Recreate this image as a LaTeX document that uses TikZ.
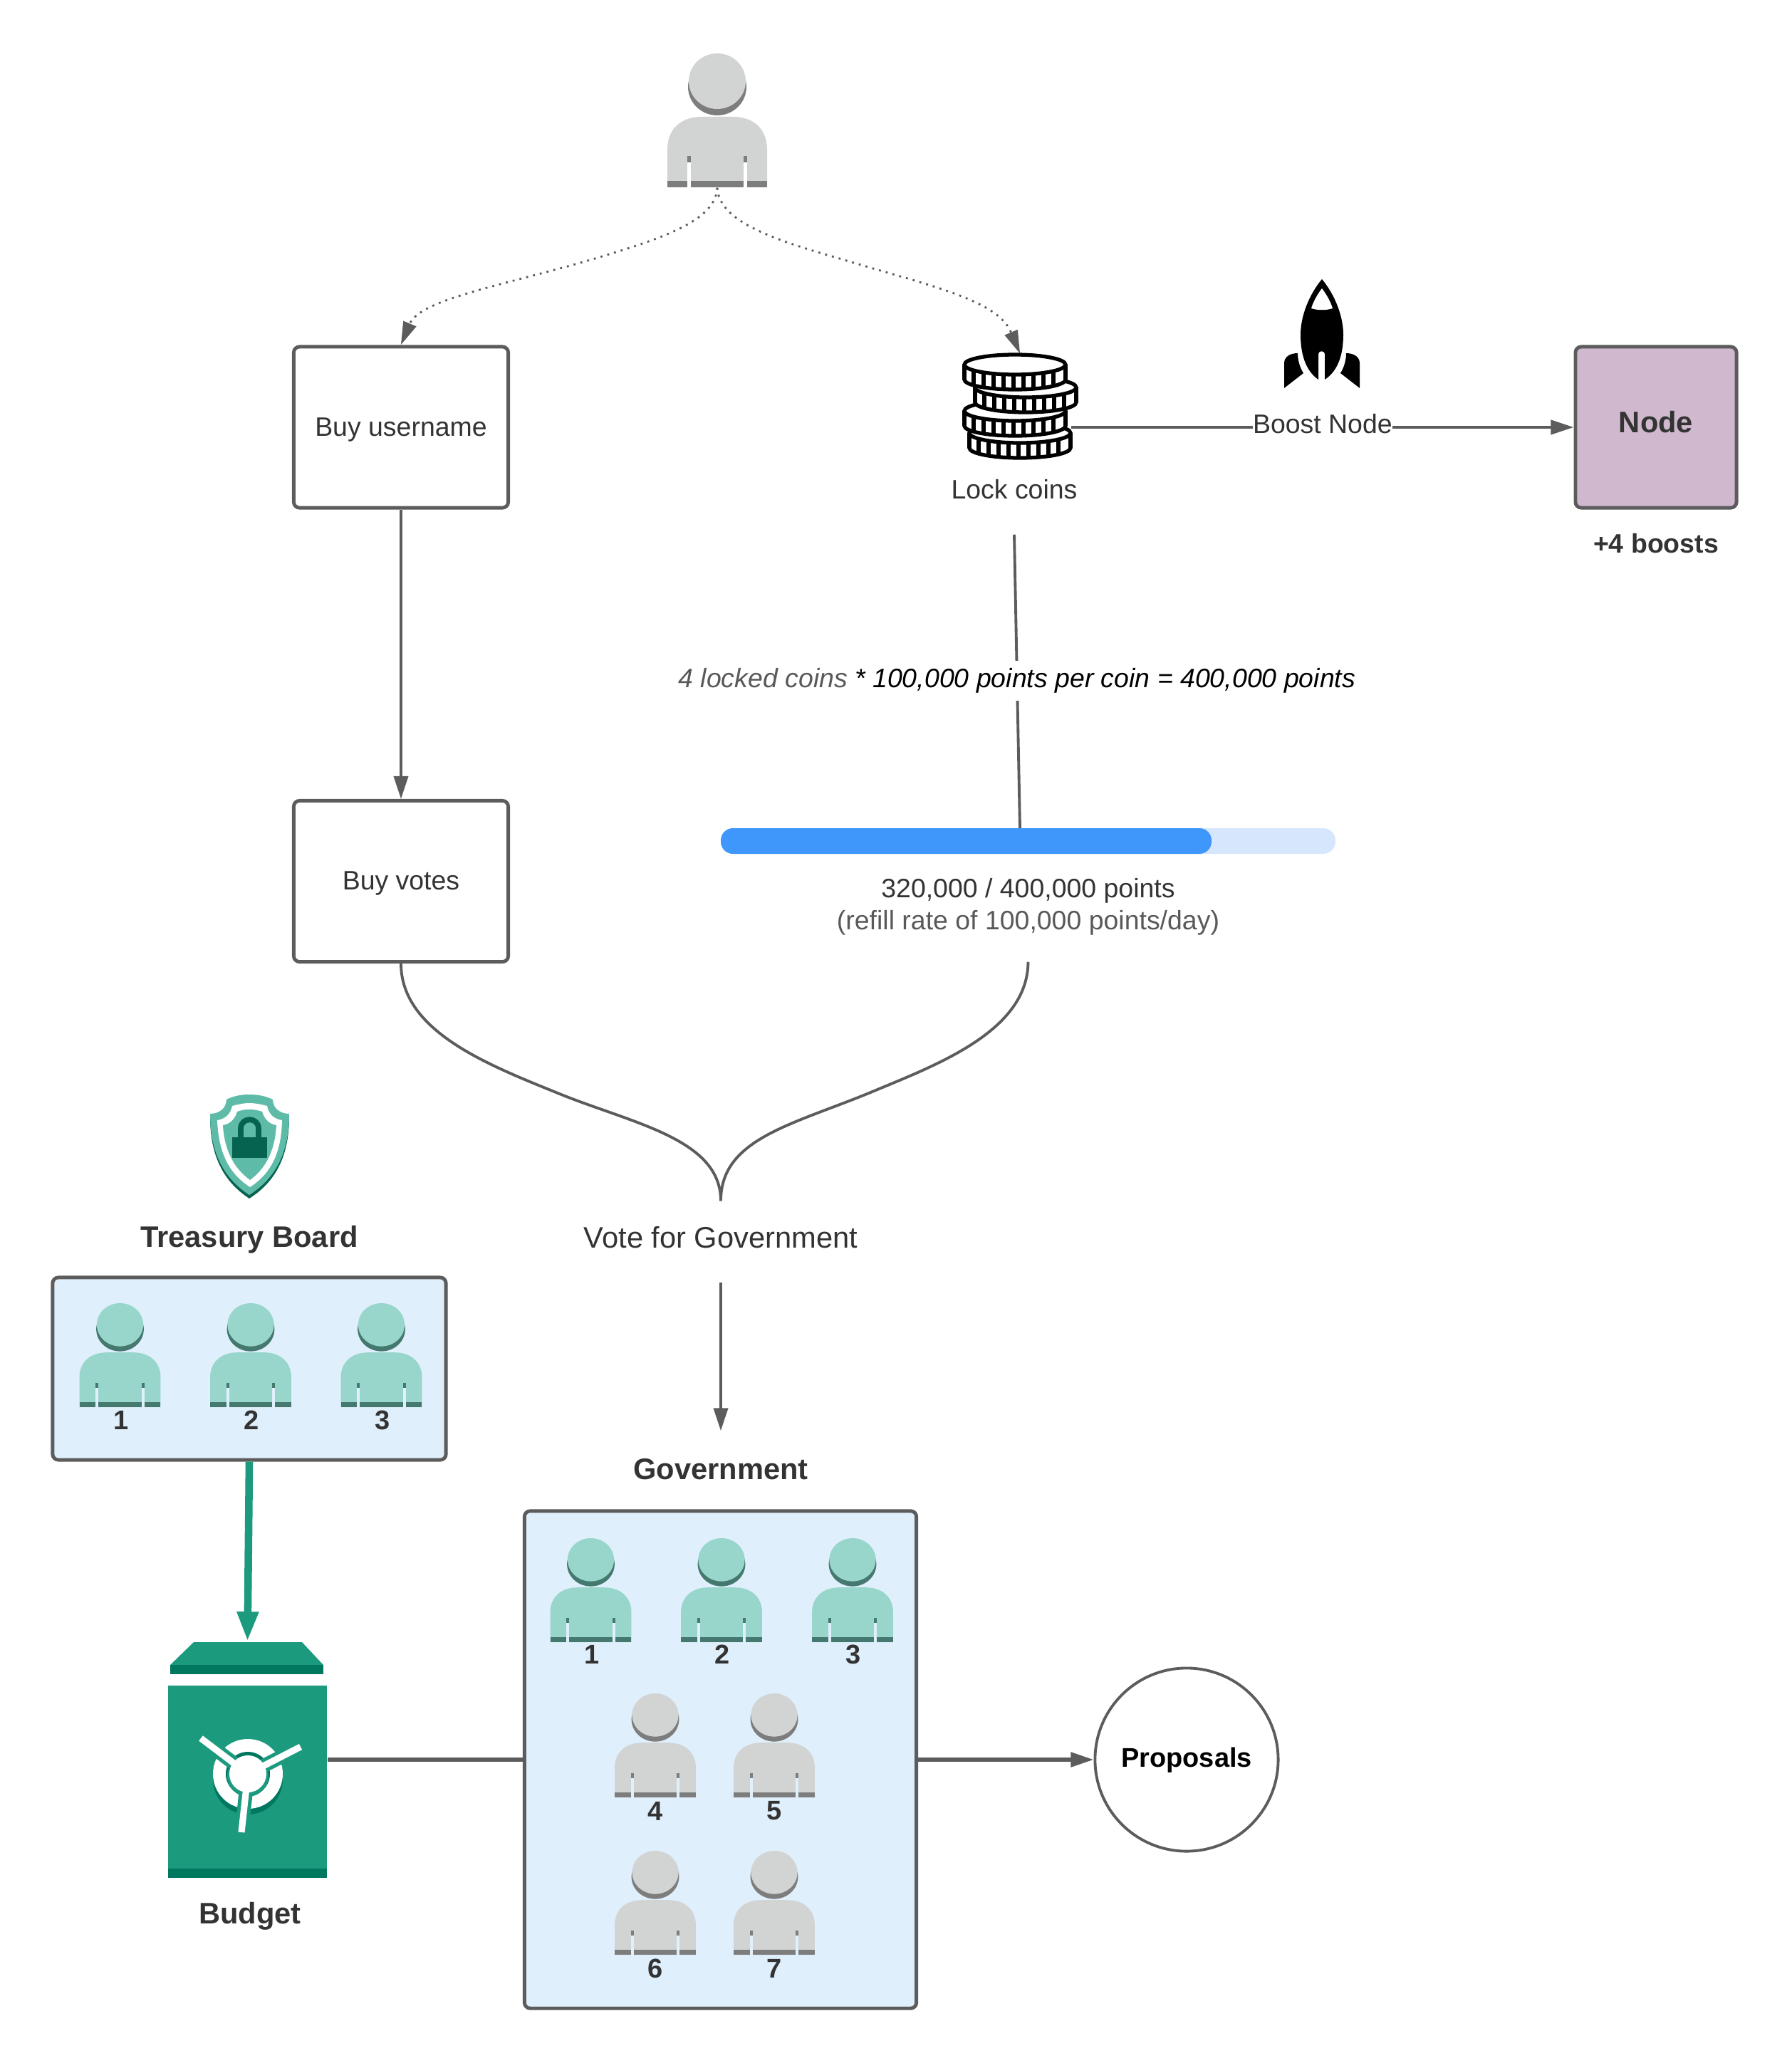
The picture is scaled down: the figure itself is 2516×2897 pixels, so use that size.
\documentclass[tikz,border=0pt]{standalone}
\usepackage{fontspec}
\setmainfont{Liberation Sans}
\usepackage{xcolor}
\usetikzlibrary{arrows.meta, positioning, calc}
\definecolor{Line_Gray}{HTML}{5C5C5C}
\definecolor{Text_Gray}{HTML}{333333}
\definecolor{Sub_Gray}{HTML}{595959}
\definecolor{Box_Blue}{HTML}{DFEFFB}
\definecolor{Bar_Blue}{HTML}{3F96FB}
\definecolor{Bar_Pale}{HTML}{D6E7FD}
\definecolor{Node_Mauve}{HTML}{D0B9CE}
\definecolor{User_Gray}{HTML}{D2D4D4}
\definecolor{User_Dark}{HTML}{7D7D7D}
\definecolor{User_Teal}{HTML}{98D5CA}
\definecolor{User_Deep}{HTML}{45796F}
\definecolor{Safe_Teal}{HTML}{1C9A7E}
\definecolor{Safe_Deep}{HTML}{00775F}
\definecolor{Shield_Teal}{HTML}{5EBBA8}
\definecolor{Shield_Deep}{HTML}{066350}
\tikzset{
  lbl/.style={font=\fontsize{10.65}{12.5}\selectfont, text=Text_Gray, inner sep=0pt},
  bigbold/.style={font=\fontsize{11.85}{14}\selectfont\bfseries, text=Text_Gray, inner sep=0pt},
  numlbl/.style={font=\fontsize{10.8}{12}\selectfont\bfseries, text=Text_Gray, inner sep=0pt},
  stepbox/.style={draw=Line_Gray, line width=1.4pt, rounded corners=2.3pt, minimum width=3.01cm, minimum height=2.26cm, inner sep=0pt},
  panel/.style={draw=Line_Gray, line width=1.4pt, fill=Box_Blue, rounded corners=2.3pt, inner sep=0pt},
  iconbox/.style={inner sep=0pt},
  conn/.style={draw=Line_Gray, line width=1.1pt},
  connarrow/.style={conn, -{Triangle[length=0.32cm, width=0.2cm]}},
  dottedarrow/.style={draw=Line_Gray, line width=0.8pt, dotted, -{Triangle[length=0.32cm, width=0.2cm, line width=0pt, fill=Line_Gray]}},
}
% user figure: x, top, xscale, yscale, light, dark, background
\newcommand{\userfig}[7]{
\begin{scope}[shift={(#1,#2)}, xscale=#3, yscale=#4]
\fill[#6] (0,47) ellipse [x radius=41, y radius=40];
\fill[#5] (0,39) ellipse [x radius=40, y radius=39];
\fill[#5] (-70,188) -- (-70,135) .. controls (-70,105) and (-50,89) .. (-22,89) -- (22,89) .. controls (50,89) and (70,105) .. (70,135) -- (70,188) -- cycle;
\fill[#6] (-70,179) rectangle (70,188);
\fill[#6] (-42,144) rectangle (-37,153);
\fill[#6] (37,144) rectangle (42,153);
\fill[#7] (-42,153) rectangle (-37,189);
\fill[#7] (37,153) rectangle (42,189);
\end{scope}
}
\newcommand{\tealuser}[2]{\userfig{#1}{#2}{0.814}{0.777}{User_Teal}{User_Deep}{Box_Blue}}
\newcommand{\grayuser}[2]{\userfig{#1}{#2}{0.814}{0.777}{User_Gray}{User_Dark}{Box_Blue}}
% one coin of the stack: centre x, centre y of its top face
\newcommand{\coinfig}[2]{
\begin{scope}[shift={(#1,#2)}, draw=black, line width=1.5pt]
\draw[fill=white] (0,21) ellipse [x radius=71, y radius=14];
\fill[white] (-71,0) rectangle (71,21);
\draw (-71,0) -- (-71,21);
\draw (71,0) -- (71,21);
\foreach \t in {-58,-44,-30,-16,-2,12,26,40,54}
  \draw ({\t},0) -- ({\t},{21+14*sqrt(1-\t*\t/5041)});
\draw[fill=white] (0,0) ellipse [x radius=71, y radius=14];
\end{scope}
}
\begin{document}
\begin{tikzpicture}[x=0.01cm, y=-0.01cm]
\useasboundingbox (0,0) rectangle (2516,2897);
% --- Named places of the icons ---
\node[iconbox, minimum width=1.41cm, minimum height=1.88cm] (topuser) at (1007,169) {};
\node[iconbox, minimum width=1.65cm, minimum height=1.46cm] (coinstack) at (1432,570) {};
\node[iconbox, minimum width=2.23cm, minimum height=3.3cm] (safebox) at (347.5,2471) {};
% --- Boxes and texts ---
\node[stepbox] (buyname) at (563,600) {};
\node[lbl] (buynametxt) at (563,603) {Buy username};
\node[stepbox] (buyvotes) at (563,1237.5) {};
\node[lbl] (buyvotestxt) at (563,1240) {Buy votes};
\node[stepbox, fill=Node_Mauve, minimum width=2.26cm] (nodebox) at (2325,600) {};
\node[bigbold] (nodetxt) at (2325,593) {Node};
\node[numlbl, font=\fontsize{10.65}{12}\selectfont\bfseries] (boosttxt) at (2325,763) {+4 boosts};
\node[lbl, minimum height=1.26cm] (lockcoins) at (1424,687) {Lock coins};
\node[lbl, align=center, minimum height=1.54cm] (pointstxt) at (1443.5,1273) {320,000 / 400,000 points\\[0.2pt]{\color{Sub_Gray}(refill rate of 100,000 points/day)}};
\node[lbl, font=\fontsize{11.85}{14}\selectfont, minimum height=1.02cm] (votegov) at (1012,1738) {Vote for Government};
\node[bigbold] (treasurytxt) at (350,1741) {Treasury Board};
\node[bigbold, minimum height=1.06cm] (govtxt) at (1012,2063) {Government};
\node[bigbold] (budgettxt) at (351,2691) {Budget};
\node[panel, minimum width=5.52cm, minimum height=2.56cm] (treasury) at (350,1922) {};
\node[panel, minimum width=5.5cm, minimum height=6.98cm] (govbox) at (1011.5,2471) {};
\node[draw=Line_Gray, line width=1.1pt, circle, minimum size=2.57cm, inner sep=0pt] (proposals) at (1666,2471) {};
\node[numlbl, text=black] (proposalstxt) at (1666,2472) {Proposals};
% --- Points bar ---
\fill[Bar_Pale, rounded corners=0.17cm] (1012,1163) rectangle (1875,1199);
\fill[Bar_Blue, rounded corners=0.17cm] (1012,1163) rectangle (1701,1199);
\coordinate (barin) at (1432,1163);
\coordinate (mergept) at (votegov.north);
% --- Connectors ---
\draw[dottedarrow] (topuser.south) .. controls (1005,310) and (930,335) .. (832,364) .. controls (710,400) and (590,420) .. (563,484);
\draw[dottedarrow] (topuser.south) .. controls (1010,310) and (1080,335) .. (1182,364) .. controls (1300,400) and (1400,420) .. (coinstack.north);
\draw[connarrow] (buyname.south) -- (buyvotes.north);
\draw[connarrow] ([xshift=-0.11cm]coinstack.east |- nodebox.west) -- node[lbl, fill=white, inner sep=0pt, yshift=0.05cm] (boostlbl) {Boost Node} (nodebox.west);
\draw[conn] (lockcoins.south) -- node[pos=0.487, lbl, fill=white, inner ysep=3pt, yshift=-0.04cm, font=\fontsize{10.65}{12.5}\selectfont\itshape, text=black] (formula) {{\color{Sub_Gray}4 locked coins} * 100,000 points per coin = 400,000 points} (barin);
\draw[conn] (buyvotes.south) .. controls (563,1450) and (690,1497) .. (788,1537) .. controls (890,1578) and (1012,1600) .. (mergept);
\draw[conn] (pointstxt.south) .. controls (1443,1450) and (1310,1497) .. (1220,1535) .. controls (1110,1580) and (1012,1600) .. (mergept);
\draw[connarrow, shorten <=0.11cm] (votegov.south) -- (govtxt.north);
\draw[draw=Safe_Teal, line width=3pt, -{Triangle[length=0.42cm, width=0.28cm]}] (treasury.south) -- (safebox.north);
\draw[conn, line width=1.5pt] (safebox.east) -- (govbox.west);
\draw[connarrow, line width=1.5pt] (govbox.east) -- (proposals.west);
% --- Users ---
\userfig{1007}{75}{1}{1}{User_Gray}{User_Dark}{white}
\foreach \px/\num in {168.5/1,352/2,535.5/3}{
  \tealuser{\px}{1830}
  \node[numlbl] (tb\num) at (\px+1.5,1994) {\num};
}
\foreach \px/\num in {829.5/1,1013/2,1197/3}{
  \tealuser{\px}{2160}
  \node[numlbl] (gov\num) at (\px+1.5,2323) {\num};
}
\foreach \px/\top/\num in {920/2378/4,1087/2378/5,920/2599/6,1087/2599/7}{
  \grayuser{\px}{\top}
  \node[numlbl] (gov\num) at (\px,\top+165) {\num};
}
% --- Coins ---
\coinfig{1432}{608}
\coinfig{1425}{577}
\coinfig{1440}{544}
\coinfig{1425}{512}
% --- Rocket ---
\fill[black] (1856,392) .. controls (1875,415) and (1886,445) .. (1886,470) .. controls (1886,495) and (1880,520) .. (1860,533) -- (1860,497) .. controls (1860,492) and (1851,492) .. (1851,497) -- (1851,533) .. controls (1832,520) and (1826,495) .. (1826,470) .. controls (1826,445) and (1837,415) .. (1856,392) -- cycle;
\fill[white] (1856,405) .. controls (1862,413) and (1868,423) .. (1871,433) .. controls (1862,436) and (1850,436) .. (1841,433) .. controls (1844,423) and (1850,413) .. (1856,405) -- cycle;
\fill[black] (1803,545) -- (1803,510) .. controls (1803,502) and (1810,496) .. (1822,496) .. controls (1822,506) and (1825,516) .. (1830,524) -- cycle;
\fill[black] (1909,545) -- (1909,510) .. controls (1909,502) and (1902,496) .. (1890,496) .. controls (1890,506) and (1887,516) .. (1882,524) -- cycle;
% --- Shield ---
\fill[Shield_Deep] (350,1541) .. controls (338,1541) and (328,1543) .. (318,1548) .. controls (318,1560) and (308,1568) .. (295,1568) .. controls (295,1625) and (315,1660) .. (350,1683) .. controls (386,1660) and (406,1625) .. (406,1568) .. controls (393,1568) and (383,1560) .. (383,1548) .. controls (373,1543) and (362,1541) .. (350,1541) -- cycle;
\fill[Shield_Teal] (350,1537) .. controls (338,1537) and (328,1539) .. (318,1544) .. controls (318,1556) and (308,1564) .. (295,1564) .. controls (295,1620) and (315,1655) .. (350,1678) .. controls (386,1655) and (406,1620) .. (406,1564) .. controls (393,1564) and (383,1556) .. (383,1544) .. controls (373,1539) and (362,1537) .. (350,1537) -- cycle;
\fill[white] (350,1549) .. controls (342,1549) and (334,1551) .. (326,1553) .. controls (324,1565) and (315,1572) .. (305,1573) .. controls (307,1620) and (322,1648) .. (351,1667) .. controls (380,1648) and (395,1620) .. (396,1573) .. controls (386,1572) and (377,1565) .. (375,1553) .. controls (367,1551) and (359,1549) .. (350,1549) -- cycle;
\fill[Shield_Teal] (350,1558) .. controls (344,1558) and (338,1559) .. (333,1561) .. controls (330,1572) and (322,1579) .. (313,1580) .. controls (315,1615) and (328,1640) .. (351,1657) .. controls (374,1640) and (386,1615) .. (388,1580) .. controls (379,1579) and (371,1572) .. (368,1561) .. controls (362,1559) and (356,1558) .. (350,1558) -- cycle;
\fill[Shield_Deep] (326,1597) rectangle (375,1626);
\draw[Shield_Deep, line width=2.2pt] (338,1597) -- (338,1585) .. controls (338,1568) and (363,1568) .. (363,1585) -- (363,1597);
% --- Safe ---
\fill[Safe_Teal] (239,2338) -- (272,2306) -- (424,2306) -- (454,2338) -- cycle;
\fill[Safe_Deep] (239,2338) rectangle (454,2351);
\fill[Safe_Teal] (236,2367) rectangle (459,2624);
\fill[Safe_Deep] (236,2624) rectangle (459,2637);
\fill[Safe_Deep] (348,2499) circle [radius=49];
\fill[white] (348,2491) circle [radius=49];
\fill[Safe_Deep] (348,2491) circle [radius=31];
\fill[Safe_Teal] (348,2494) circle [radius=29];
\draw[Safe_Teal, line width=5.5pt] (348,2491) -- (282,2441);
\draw[Safe_Teal, line width=5.5pt] (348,2491) -- (422,2453);
\draw[Safe_Teal, line width=5.5pt] (348,2491) -- (339,2573);
\fill[white] (348,2491) circle [radius=26];
\draw[white, line width=2.6pt] (348,2491) -- (282,2441);
\draw[white, line width=2.6pt] (348,2491) -- (422,2453);
\draw[white, line width=2.6pt] (348,2491) -- (339,2573);
\end{tikzpicture}
\end{document}
